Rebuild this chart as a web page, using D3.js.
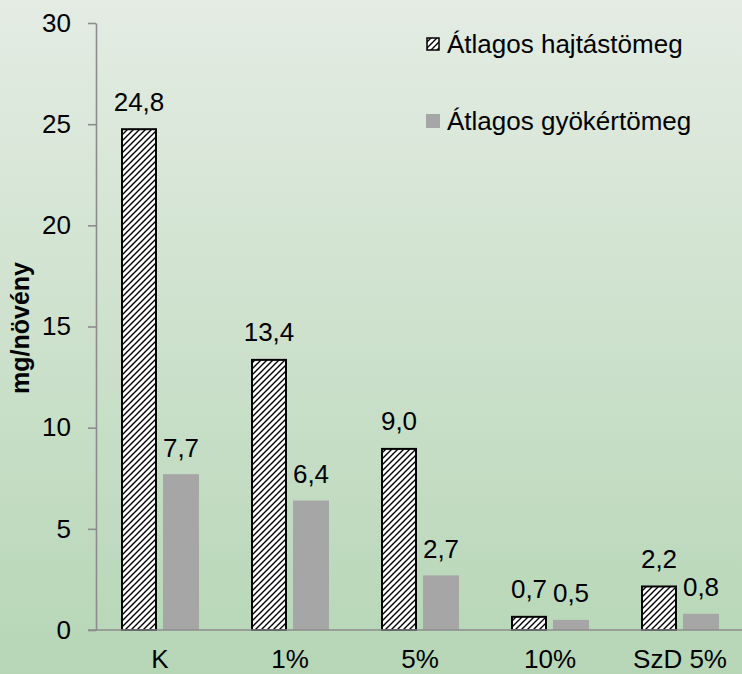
<!DOCTYPE html>
<html>
<head>
<meta charset="utf-8">
<script src="https://cdn.jsdelivr.net/npm/d3@7/dist/d3.min.js"></script>
<style>
  html, body { margin: 0; padding: 0; }
  body { width: 742px; height: 674px; overflow: hidden; }
  text { font-family: "Liberation Sans", Arial, sans-serif; fill: #000; }
</style>
</head>
<body>
<script>
const categories = ["K", "1%", "5%", "10%", "SzD 5%"];
const seriesNames = ["Átlagos hajtástömeg", "Átlagos gyökértömeg"];
const shootMass = [24.8, 13.4, 9.0, 0.7, 2.2];
const rootMass = [7.7, 6.4, 2.7, 0.5, 0.8];
const yTicks = [0, 5, 10, 15, 20, 25, 30];
const yTitle = "mg/növény";

const W = 742, H = 674;
const svg = d3.select("body").append("svg").attr("width", W).attr("height", H);
const defs = svg.append("defs");

const grad = defs.append("linearGradient").attr("id", "bg").attr("x1", 0).attr("y1", 0).attr("x2", 0).attr("y2", 1);
grad.append("stop").attr("offset", "0%").attr("stop-color", "#e4ece3");
grad.append("stop").attr("offset", "100%").attr("stop-color", "#b6d6b6");
svg.append("rect").attr("width", W).attr("height", H).attr("fill", "url(#bg)");

const pat = defs.append("pattern").attr("id", "hatch").attr("patternUnits", "userSpaceOnUse")
  .attr("width", 6).attr("height", 6);
pat.append("rect").attr("width", 6).attr("height", 6).attr("fill", "#fff");
pat.append("path").attr("d", "M0,6 L6,0 M-1.5,1.5 L1.5,-1.5 M4.5,7.5 L7.5,4.5")
  .attr("stroke", "#000").attr("stroke-width", 1.4);

const locale = d3.formatLocale({ decimal: ",", thousands: " ", grouping: [3], currency: ["", ""] });
const fmt = locale.format(".1f");

const y = d3.scaleLinear().domain([0, 30]).range([630, 23]);
const x0 = d3.scaleBand().domain(categories).range([95, 745]);
const x1 = d3.scaleBand().domain(["shoot", "root"]).range([26, 104]).paddingInner(6 / 42).paddingOuter(0);

const data = categories.map((c, i) => ({ cat: c, vals: [
  { key: "shoot", v: shootMass[i] }, { key: "root", v: rootMass[i] }] }));

const groups = svg.append("g").selectAll("g").data(data).join("g")
  .attr("transform", d => `translate(${x0(d.cat)},0)`);

groups.selectAll("rect").data(d => d.vals).join("rect")
  .attr("x", d => x1(d.key) + (d.key === "shoot" ? 1 : 0))
  .attr("width", d => x1.bandwidth() - (d.key === "shoot" ? 2 : 0))
  .attr("y", d => y(d.v) + (d.key === "shoot" ? 1 : 0))
  .attr("height", d => y(0) - y(d.v) - (d.key === "shoot" ? 1 : 0))
  .attr("fill", d => d.key === "shoot" ? "url(#hatch)" : "#a6a6a6")
  .attr("stroke", d => d.key === "shoot" ? "#000" : "none")
  .attr("stroke-width", 2);

groups.selectAll("text.val").data(d => d.vals).join("text").attr("class", "val")
  .attr("x", d => x1(d.key) + x1.bandwidth() / 2)
  .attr("y", d => y(d.v) - 17.5)
  .attr("text-anchor", "middle")
  .style("font-size", "26px")
  .text(d => fmt(d.v));

// Y axis
const yAxis = svg.append("g").attr("transform", "translate(96,0)")
  .call(d3.axisLeft(y).tickValues(yTicks).tickSize(8).tickSizeOuter(0).tickPadding(17).tickFormat(d3.format("d")));
yAxis.select(".domain").attr("stroke", "#8c8c8c").attr("stroke-width", 1.6);
yAxis.selectAll(".tick line").attr("stroke", "#8c8c8c").attr("stroke-width", 1.6);
yAxis.selectAll(".tick text").style("font-size", "26px").style("font-family", "Liberation Sans, Arial, sans-serif").attr("fill", "#000");

// X axis
const xAxis = svg.append("g").attr("transform", "translate(0,630)")
  .call(d3.axisBottom(x0).tickSize(0).tickPadding(20));
xAxis.select(".domain").remove();
xAxis.selectAll(".tick text").style("font-size", "26px").style("font-family", "Liberation Sans, Arial, sans-serif").attr("fill", "#000");
svg.append("line").attr("x1", 88).attr("x2", 742).attr("y1", 630).attr("y2", 630)
  .attr("stroke", "#8c8c8c").attr("stroke-width", 1.6);

// Y title
svg.append("text").attr("transform", "translate(29,328) rotate(-90)")
  .attr("text-anchor", "middle").style("font-size", "25px").style("font-weight", "bold")
  .text(yTitle);

// Legend
const legend = svg.append("g").selectAll("g").data(seriesNames).join("g")
  .attr("transform", (d, i) => `translate(426,${37 + i * 77})`);
legend.append("rect").attr("x", (d, i) => i === 0 ? 1 : 0).attr("y", (d, i) => i === 0 ? 1 : 0)
  .attr("width", (d, i) => i === 0 ? 12 : 14).attr("height", (d, i) => i === 0 ? 12 : 14)
  .attr("fill", (d, i) => i === 0 ? "url(#hatch)" : "#a6a6a6")
  .attr("stroke", (d, i) => i === 0 ? "#000" : "none").attr("stroke-width", 1.5);
legend.append("text").attr("x", 21).attr("y", 16).style("font-size", "26px").text(d => d);
</script>
</body>
</html>
